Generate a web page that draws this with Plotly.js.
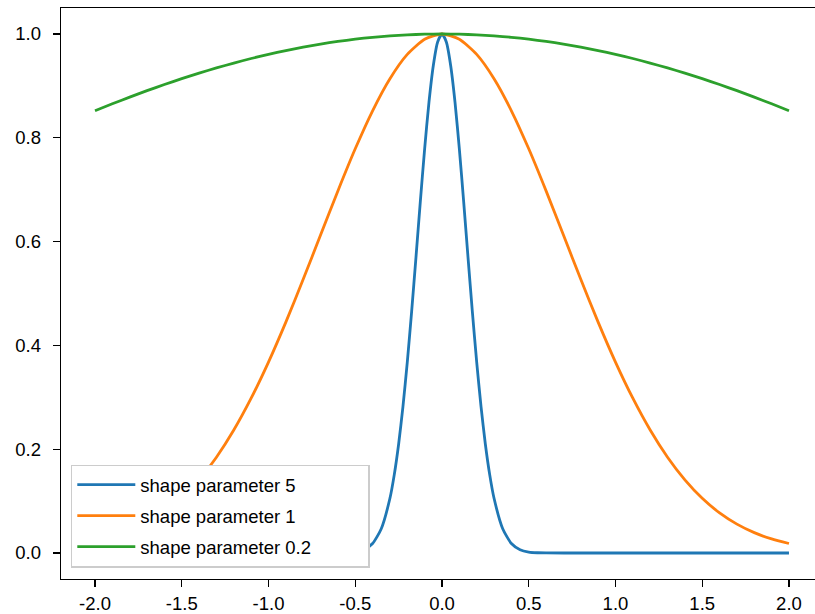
<!DOCTYPE html>
<html><head><meta charset="utf-8">
<script src="https://cdn.plot.ly/plotly-3.0.1.min.js"></script>
<style>html,body{margin:0;padding:0;overflow:hidden;background:#fff}</style>
</head><body><div id="chart" style="width:815px;height:614px"></div>
<script>
// shape parameter 5 (blue)
const xBlue = [-2.0,-1.5,-1.0,-0.8,-0.6,-0.55,-0.5,-0.45,-0.4,-0.35,-0.3,-0.275,-0.25,-0.225,-0.2,-0.175,-0.15,-0.125,-0.1,-0.075,-0.05,-0.025,0,0.025,0.05,0.075,0.1,0.125,0.15,0.175,0.2,0.225,0.25,0.275,0.3,0.35,0.4,0.45,0.5,0.55,0.6,0.8,1.0,1.5,2.0];
const yBlue = [0,0,0,0,0.0001,0.0005,0.0019,0.0063,0.0183,0.0468,0.1054,0.1510,0.2096,0.2821,0.3679,0.4650,0.5698,0.6766,0.7788,0.8688,0.9394,0.9845,1.0,0.9845,0.9394,0.8688,0.7788,0.6766,0.5698,0.4650,0.3679,0.2821,0.2096,0.1510,0.1054,0.0468,0.0183,0.0063,0.0019,0.0005,0.0001,0,0,0,0];
// shape parameter 1 (orange) and 0.2 (green)
const xGrid = [-2.0,-1.9,-1.8,-1.7,-1.6,-1.5,-1.4,-1.3,-1.2,-1.1,-1.0,-0.9,-0.8,-0.7,-0.6,-0.5,-0.4,-0.3,-0.2,-0.1,0,0.1,0.2,0.3,0.4,0.5,0.6,0.7,0.8,0.9,1.0,1.1,1.2,1.3,1.4,1.5,1.6,1.7,1.8,1.9,2.0];
const yOrange = [0.0183,0.0271,0.0392,0.0556,0.0773,0.1054,0.1409,0.1845,0.2369,0.2982,0.3679,0.4449,0.5273,0.6126,0.6977,0.7788,0.8521,0.9139,0.9608,0.9900,1.0,0.9900,0.9608,0.9139,0.8521,0.7788,0.6977,0.6126,0.5273,0.4449,0.3679,0.2982,0.2369,0.1845,0.1409,0.1054,0.0773,0.0556,0.0392,0.0271,0.0183];
const yGreen = [0.8521,0.8655,0.8784,0.8908,0.9027,0.9139,0.9246,0.9346,0.9440,0.9528,0.9608,0.9681,0.9747,0.9806,0.9857,0.9900,0.9936,0.9964,0.9984,0.9996,1.0,0.9996,0.9984,0.9964,0.9936,0.9900,0.9857,0.9806,0.9747,0.9681,0.9608,0.9528,0.9440,0.9346,0.9246,0.9139,0.9027,0.8908,0.8784,0.8655,0.8521];
const seriesNames = ["shape parameter 5","shape parameter 1","shape parameter 0.2"];
const xTicks = [-2.0,-1.5,-1.0,-0.5,0.0,0.5,1.0,1.5,2.0];
const xTickText = ["-2.0","-1.5","-1.0","-0.5","0.0","0.5","1.0","1.5","2.0"];
const yTicks = [0.0,0.2,0.4,0.6,0.8,1.0];
const yTickText = ["0.0","0.2","0.4","0.6","0.8","1.0"];

const font = {family:"Liberation Sans, Arial, sans-serif", size:18.5, color:"#000"};
const pad = "\u00a0".repeat(10); // widen the legend box like the reference
const mk = (x,y,name,color,g)=>({x,y,name,type:"scatter",mode:"lines",legendgroup:g,
  line:{color,width:2.8,shape:"spline",smoothing:0.6}});
const data = [
  mk(xBlue,yBlue,seriesNames[0],"#1f77b4","a"),
  mk(xGrid,yOrange,seriesNames[1],"#ff7f0e","b"),
  mk(xGrid,yGreen,seriesNames[2]+pad,"#2ca02c","c")
];
const layout = {
  width:815,height:614,
  margin:{l:61,r:0,t:8,b:35},
  paper_bgcolor:"#fff",plot_bgcolor:"#fff",
  font:font,
  showlegend:true,
  legend:{x:0.013,y:0.02,xanchor:"left",yanchor:"bottom",bgcolor:"#fff",bordercolor:"#cccccc",borderwidth:1.5,
    font:font,traceorder:"grouped",tracegroupgap:4,itemwidth:58},
  xaxis:{range:[-2.196,2.150],tickvals:xTicks,ticktext:xTickText,showgrid:false,zeroline:false,
    showline:true,linecolor:"#000",linewidth:1.3,mirror:true,ticks:"outside",ticklen:7,tickwidth:1.3,tickcolor:"#000",
    ticklabelstandoff:0},
  yaxis:{range:[-0.0501,1.0501],tickvals:yTicks,ticktext:yTickText,showgrid:false,zeroline:false,
    showline:true,linecolor:"#000",linewidth:1.3,ticks:"outside",ticklen:7,tickwidth:1.3,tickcolor:"#000",
    ticklabelstandoff:8}
};
Plotly.newPlot("chart",data,layout,{staticPlot:true,displayModeBar:false});
</script></body></html>
